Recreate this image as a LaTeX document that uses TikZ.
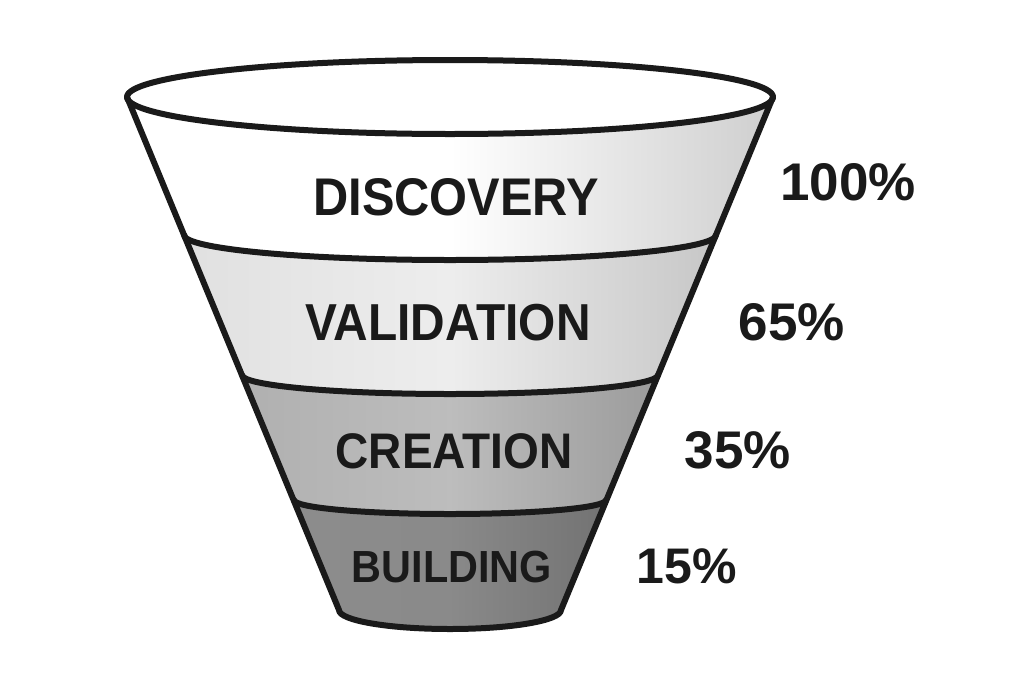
\documentclass[tikz,border=0pt]{standalone}
\usepackage{fontspec}
\newfontfamily\labfont[FakeStretch=0.92]{Liberation Sans}
\newfontfamily\pctfont{Liberation Sans}
\definecolor{ink}{HTML}{1A1A1A}
\begin{document}
\begin{tikzpicture}[x=1pt,y=-1pt,
  edge/.style={draw=ink,line width=6pt,line join=round,line cap=round},
  stagelabel/.style={inner sep=0pt,anchor=base,text=ink,font=\labfont\bfseries},
  pctlabel/.style={inner sep=0pt,anchor=base,text=ink,font=\pctfont\bfseries\fontsize{53}{60}\selectfont}]
\path[fill=white] (0,0) rectangle (1024,683);
% band fills
\path[left color=white,right color=black!19,middle color=white]
  (127,97) arc[start angle=180,end angle=0,x radius=323,y radius=37]
  -- (716,235) arc[start angle=0,end angle=180,x radius=266,y radius=25] -- cycle;
\path[left color=black!12,right color=black!22,middle color=black!7]
  (184,235) arc[start angle=180,end angle=0,x radius=266,y radius=25]
  -- (658,375) arc[start angle=0,end angle=180,x radius=208,y radius=19] -- cycle;
\path[left color=black!31,right color=black!39,middle color=black!26]
  (242,375) arc[start angle=180,end angle=0,x radius=208,y radius=19]
  -- (606,500) arc[start angle=0,end angle=180,x radius=156,y radius=14] -- cycle;
\path[left color=black!45,right color=black!55,middle color=black!46]
  (294,500) arc[start angle=180,end angle=0,x radius=156,y radius=14]
  -- (561,610) arc[start angle=0,end angle=180,x radius=111,y radius=19] -- cycle;
% top opening
\path[fill=white] (450,97) ellipse[x radius=323,y radius=37];
% outlines
\draw[edge] (450,97) ellipse[x radius=323,y radius=37];
\draw[edge] (127,97) -- (339,610) arc[start angle=180,end angle=0,x radius=111,y radius=19] -- (773,97);
\draw[edge] (184,235) arc[start angle=180,end angle=0,x radius=266,y radius=25];
\draw[edge] (242,375) arc[start angle=180,end angle=0,x radius=208,y radius=19];
\draw[edge] (294,500) arc[start angle=180,end angle=0,x radius=156,y radius=14];
% stage labels
\node[stagelabel,font=\labfont\bfseries\fontsize{53}{60}\selectfont] (disc) at (456,215) {DISCOVERY};
\node[stagelabel,font=\labfont\bfseries\fontsize{52}{60}\selectfont] (valid) at (448,340) {VALIDATION};
\node[stagelabel,font=\labfont\bfseries\fontsize{50}{60}\selectfont] (creat) at (454,468) {CREATION};
\node[stagelabel,font=\labfont\bfseries\fontsize{45}{60}\selectfont] (build) at (452,582) {BUILDING};
% percentages
\node[pctlabel] (p100) at (848,200) {100\%};
\node[pctlabel] (p65) at (792,340) {65\%};
\node[pctlabel] (p35) at (738,468) {35\%};
\node[pctlabel,font=\pctfont\bfseries\fontsize{50}{60}\selectfont] (p15) at (687,583) {15\%};
\end{tikzpicture}
\end{document}
